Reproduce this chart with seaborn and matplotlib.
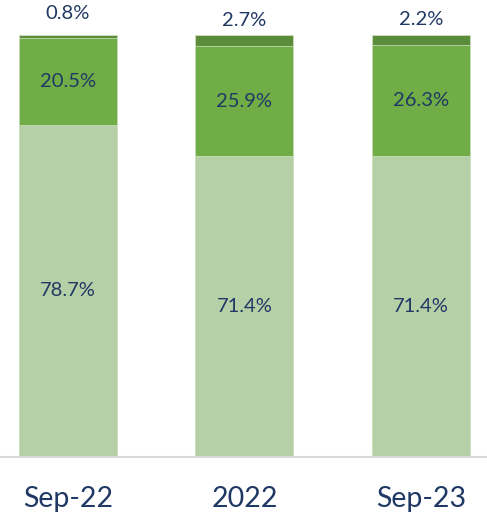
import matplotlib.pyplot as plt
import numpy as np
import pandas as pd
import seaborn as sns

# Werte aus dem Diagramm (Prozent)
periods = ['Sep-22', '2022', 'Sep-23']
base_share = [78.7, 71.4, 71.4]
mid_share = [20.5, 25.9, 26.3]
top_share = [0.8, 2.7, 2.2]

colors = ['#b5cfa7', '#70ad47', '#5b8c3a']
text_color = '#1f3864'

sns.set_theme(style='white')
plt.rcParams['font.family'] = ['Lato', 'DejaVu Sans']

df = pd.DataFrame({'period': periods, 'base': base_share, 'mid': mid_share, 'top': top_share})
df['cum_mid'] = df['base'] + df['mid']
df['cum_top'] = df['cum_mid'] + df['top']

fig = plt.figure(figsize=(4.87, 5.20), dpi=100)
ax = fig.add_axes([0, 63 / 520, 1, 457 / 520])

# Gestapelte Balken: kumulierte Summen von oben nach unten übereinander zeichnen
for col, color in zip(['cum_top', 'cum_mid', 'base'], [colors[2], colors[1], colors[0]]):
    sns.barplot(data=df, x='period', y=col, color=color, width=0.555, saturation=1,
                edgecolor='#d5e4c8', linewidth=0.5, ax=ax)

# Beschriftungen
label_offset = [5.0, 3.4, 3.7]
for i, row in df.iterrows():
    ax.text(i, row['base'] / 2, f"{row['base']:.1f}%", ha='center', va='center',
            fontsize=14.5, color=text_color)
    ax.text(i, row['base'] + row['mid'] / 2, f"{row['mid']:.1f}%", ha='center', va='center',
            fontsize=14.5, color=text_color)
    ax.text(i, row['cum_top'] + label_offset[i], f"{row['top']:.1f}%", ha='center', va='center',
            fontsize=14.5, color=text_color)

ax.set_xlim(-0.385, 2.374)
ax.set_ylim(0, 108.3)
ax.set_xlabel('')
ax.set_ylabel('')
ax.set_yticks([])
ax.tick_params(axis='x', length=0, pad=21, labelsize=20.5, labelcolor=text_color)
for side in ['top', 'left', 'right']:
    ax.spines[side].set_visible(False)
ax.spines['bottom'].set_color('#d9d9d9')
ax.spines['bottom'].set_linewidth(1.5)

fig.savefig('out.png', dpi=100)
